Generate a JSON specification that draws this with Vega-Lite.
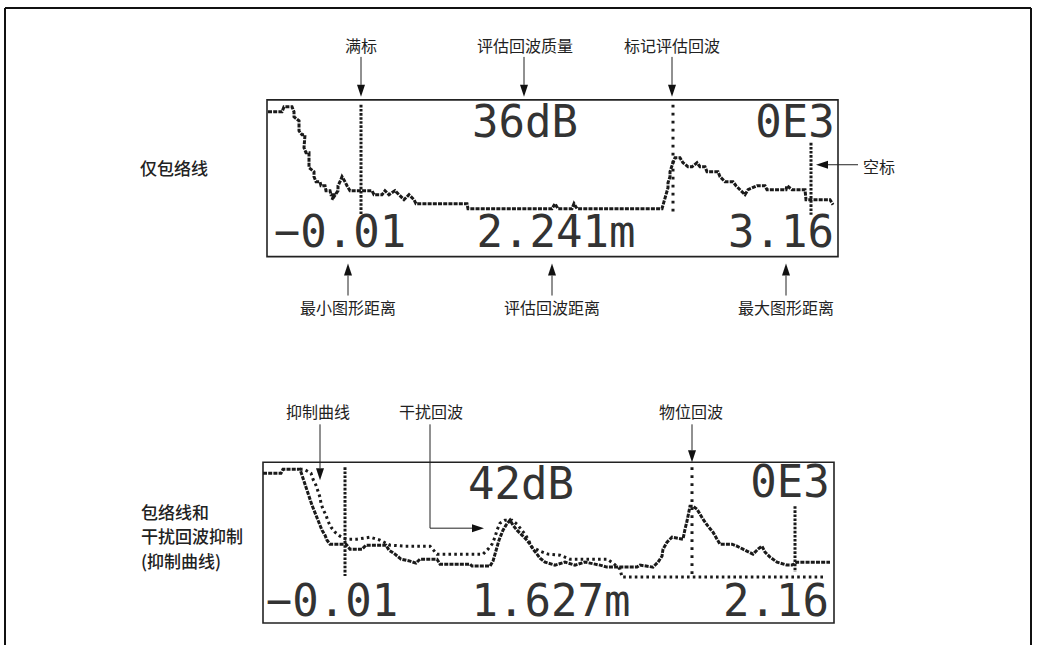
{
"$schema": "https://vega.github.io/schema/vega-lite/v6.json",
"width": 1037, "height": 646,
"autosize": {"type": "fit", "contains": "padding"},
"padding": 0,
"background": "white",
"config": {"view": {"stroke": null}},
"datasets": {
"frame": [{"x":5,"y":8,"x2":1031,"y2":8},{"x":5,"y":8,"x2":5,"y2":646},{"x":1031,"y":8,"x2":1031,"y2":646}],
"boxes": [{"x":267,"y":100,"x2":838,"y2":257},{"x":263,"y":463,"x2":834,"y2":624}],
"markers": [
{"x":361,"y":105,"x2":361,"y2":215,"k":"dense"},{"x":673,"y":105,"x2":673,"y2":213,"k":"dotted"},{"x":811,"y":143,"x2":811,"y2":215,"k":"dense"},
{"x":345,"y":468,"x2":345,"y2":577,"k":"dense"},{"x":692,"y":468,"x2":692,"y2":578,"k":"dotted"},{"x":795,"y":507,"x2":795,"y2":573,"k":"dense"}],
"leaders": [
{"x":361,"y":57,"x2":361,"y2":85},{"x":524,"y":57,"x2":524,"y2":85},{"x":672,"y":57,"x2":672,"y2":85},
{"x":348,"y":276,"x2":348,"y2":296},{"x":552,"y":276,"x2":552,"y2":296},{"x":786,"y":276,"x2":786,"y2":296},
{"x":828,"y":165,"x2":858,"y2":165},
{"x":320,"y":425,"x2":320,"y2":469},{"x":430,"y":425,"x2":430,"y2":529},{"x":430,"y":529,"x2":472,"y2":529},{"x":692,"y":425,"x2":692,"y2":451}],
"heads": [
{"x":361,"y":97,"d":"down"},{"x":524,"y":97,"d":"down"},{"x":672,"y":97,"d":"down"},{"x":320,"y":481,"d":"down"},{"x":692,"y":463,"d":"down"},
{"x":348,"y":264,"d":"up"},{"x":552,"y":264,"d":"up"},{"x":786,"y":264,"d":"up"},
{"x":816,"y":165,"d":"left"},{"x":484,"y":529,"d":"right"}],
"labels": [
{"t":"满标","x":361,"y":47,"k":"ann"},{"t":"评估回波质量","x":525,"y":47,"k":"ann"},{"t":"标记评估回波","x":672,"y":47,"k":"ann"},
{"t":"空标","x":879,"y":168,"k":"ann"},
{"t":"最小图形距离","x":348,"y":309,"k":"ann"},{"t":"评估回波距离","x":552,"y":309,"k":"ann"},{"t":"最大图形距离","x":786,"y":309,"k":"ann"},
{"t":"抑制曲线","x":318,"y":414,"k":"ann"},{"t":"干扰回波","x":431,"y":414,"k":"ann"},{"t":"物位回波","x":691,"y":414,"k":"ann"},
{"t":"仅包络线","x":140,"y":170,"k":"side"},
{"t":"包络线和","x":141,"y":515,"k":"side"},{"t":"干扰回波抑制","x":141,"y":539,"k":"side"},{"t":"(抑制曲线)","x":141,"y":564,"k":"side"},
{"t":"36dB","x":525,"y":137,"k":"lcd"},{"t":"0E3","x":795,"y":137,"k":"lcd"},
{"t":"−0.01","x":340,"y":247,"k":"lcd"},{"t":"2.241m","x":556,"y":247,"k":"lcd"},{"t":"3.16","x":781,"y":247,"k":"lcd"},
{"t":"42dB","x":521,"y":500,"k":"lcd"},{"t":"0E3","x":790,"y":498,"k":"lcd"},
{"t":"−0.01","x":332,"y":617,"k":"lcd"},{"t":"1.627m","x":551,"y":617,"k":"lcd"},{"t":"2.16","x":776,"y":617,"k":"lcd"}],
"curves": [
{"c":"e1","i":0,"x":268,"y":112},{"c":"e1","i":1,"x":282,"y":112},{"c":"e1","i":2,"x":284,"y":107},{"c":"e1","i":3,"x":292,"y":107},{"c":"e1","i":4,"x":294,"y":112},{"c":"e1","i":5,"x":294,"y":117},{"c":"e1","i":6,"x":299,"y":121},{"c":"e1","i":7,"x":299,"y":131},{"c":"e1","i":8,"x":302,"y":135},{"c":"e1","i":9,"x":305,"y":135},
{"c":"e1","i":10,"x":304,"y":148},{"c":"e1","i":11,"x":306,"y":153},{"c":"e1","i":12,"x":309,"y":153},{"c":"e1","i":13,"x":309,"y":168},{"c":"e1","i":14,"x":314,"y":172},{"c":"e1","i":15,"x":314,"y":177},{"c":"e1","i":16,"x":316,"y":182},{"c":"e1","i":17,"x":320,"y":182},{"c":"e1","i":18,"x":321,"y":186},{"c":"e1","i":19,"x":325,"y":186},
{"c":"e1","i":20,"x":326,"y":191},{"c":"e1","i":21,"x":330,"y":191},{"c":"e1","i":22,"x":331,"y":195},{"c":"e1","i":23,"x":334,"y":195},{"c":"e1","i":24,"x":332,"y":200},{"c":"e1","i":25,"x":338,"y":191},{"c":"e1","i":26,"x":338,"y":186},{"c":"e1","i":27,"x":340,"y":182},{"c":"e1","i":28,"x":342,"y":177},{"c":"e1","i":29,"x":345,"y":182},
{"c":"e1","i":30,"x":347,"y":186},{"c":"e1","i":31,"x":350,"y":191},{"c":"e1","i":32,"x":372,"y":191},{"c":"e1","i":33,"x":374,"y":195},{"c":"e1","i":34,"x":382,"y":195},{"c":"e1","i":35,"x":385,"y":191},{"c":"e1","i":36,"x":389,"y":195},{"c":"e1","i":37,"x":395,"y":191},{"c":"e1","i":38,"x":399,"y":195},{"c":"e1","i":39,"x":404,"y":200},
{"c":"e1","i":40,"x":409,"y":195},{"c":"e1","i":41,"x":414,"y":200},{"c":"e1","i":42,"x":416,"y":204},{"c":"e1","i":43,"x":467,"y":204},{"c":"e1","i":44,"x":468,"y":209},{"c":"e1","i":45,"x":552,"y":209},{"c":"e1","i":46,"x":555,"y":204},{"c":"e1","i":47,"x":558,"y":209},{"c":"e1","i":48,"x":572,"y":209},{"c":"e1","i":49,"x":574,"y":204},
{"c":"e1","i":50,"x":577,"y":209},{"c":"e1","i":51,"x":662,"y":209},{"c":"e1","i":52,"x":664,"y":202},{"c":"e1","i":53,"x":666,"y":195},{"c":"e1","i":54,"x":668,"y":188},{"c":"e1","i":55,"x":668,"y":183},{"c":"e1","i":56,"x":670,"y":177},{"c":"e1","i":57,"x":670,"y":172},{"c":"e1","i":58,"x":673,"y":163},{"c":"e1","i":59,"x":675,"y":158},
{"c":"e1","i":60,"x":680,"y":158},{"c":"e1","i":61,"x":683,"y":163},{"c":"e1","i":62,"x":688,"y":167},{"c":"e1","i":63,"x":692,"y":167},{"c":"e1","i":64,"x":697,"y":163},{"c":"e1","i":65,"x":700,"y":167},{"c":"e1","i":66,"x":705,"y":167},{"c":"e1","i":67,"x":707,"y":172},{"c":"e1","i":68,"x":718,"y":172},{"c":"e1","i":69,"x":720,"y":177},
{"c":"e1","i":70,"x":725,"y":182},{"c":"e1","i":71,"x":733,"y":182},{"c":"e1","i":72,"x":736,"y":186},{"c":"e1","i":73,"x":740,"y":190},{"c":"e1","i":74,"x":745,"y":195},{"c":"e1","i":75,"x":748,"y":190},{"c":"e1","i":76,"x":757,"y":186},{"c":"e1","i":77,"x":765,"y":186},{"c":"e1","i":78,"x":767,"y":190},{"c":"e1","i":79,"x":786,"y":190},
{"c":"e1","i":80,"x":787,"y":186},{"c":"e1","i":81,"x":792,"y":190},{"c":"e1","i":82,"x":805,"y":190},{"c":"e1","i":83,"x":806,"y":200},{"c":"e1","i":84,"x":830,"y":200},{"c":"e1","i":85,"x":833,"y":205},
{"c":"e2","i":0,"x":263,"y":474},{"c":"e2","i":1,"x":281,"y":474},{"c":"e2","i":2,"x":283,"y":470},{"c":"e2","i":3,"x":300,"y":470},{"c":"e2","i":4,"x":302,"y":476},{"c":"e2","i":5,"x":304,"y":482},{"c":"e2","i":6,"x":306,"y":488},{"c":"e2","i":7,"x":308,"y":494},{"c":"e2","i":8,"x":310,"y":500},{"c":"e2","i":9,"x":312,"y":506},
{"c":"e2","i":10,"x":314,"y":511},{"c":"e2","i":11,"x":316,"y":516},{"c":"e2","i":12,"x":318,"y":521},{"c":"e2","i":13,"x":320,"y":526},{"c":"e2","i":14,"x":322,"y":531},{"c":"e2","i":15,"x":325,"y":536},{"c":"e2","i":16,"x":327,"y":541},{"c":"e2","i":17,"x":330,"y":545},{"c":"e2","i":18,"x":346,"y":545},{"c":"e2","i":19,"x":350,"y":550},
{"c":"e2","i":20,"x":362,"y":550},{"c":"e2","i":21,"x":366,"y":546},{"c":"e2","i":22,"x":386,"y":546},{"c":"e2","i":23,"x":389,"y":551},{"c":"e2","i":24,"x":395,"y":555},{"c":"e2","i":25,"x":401,"y":560},{"c":"e2","i":26,"x":410,"y":562},{"c":"e2","i":27,"x":416,"y":564},{"c":"e2","i":28,"x":420,"y":560},{"c":"e2","i":29,"x":437,"y":560},
{"c":"e2","i":30,"x":440,"y":565},{"c":"e2","i":31,"x":470,"y":565},{"c":"e2","i":32,"x":472,"y":567},{"c":"e2","i":33,"x":490,"y":567},{"c":"e2","i":34,"x":493,"y":562},{"c":"e2","i":35,"x":495,"y":555},{"c":"e2","i":36,"x":497,"y":548},{"c":"e2","i":37,"x":499,"y":541},{"c":"e2","i":38,"x":501,"y":536},{"c":"e2","i":39,"x":503,"y":531},
{"c":"e2","i":40,"x":506,"y":526},{"c":"e2","i":41,"x":510,"y":521},{"c":"e2","i":42,"x":513,"y":526},{"c":"e2","i":43,"x":517,"y":531},{"c":"e2","i":44,"x":522,"y":536},{"c":"e2","i":45,"x":526,"y":540},{"c":"e2","i":46,"x":530,"y":545},{"c":"e2","i":47,"x":533,"y":550},{"c":"e2","i":48,"x":537,"y":555},{"c":"e2","i":49,"x":540,"y":559},
{"c":"e2","i":50,"x":545,"y":563},{"c":"e2","i":51,"x":555,"y":566},{"c":"e2","i":52,"x":565,"y":563},{"c":"e2","i":53,"x":575,"y":566},{"c":"e2","i":54,"x":585,"y":563},{"c":"e2","i":55,"x":600,"y":566},{"c":"e2","i":56,"x":607,"y":568},{"c":"e2","i":57,"x":637,"y":568},{"c":"e2","i":58,"x":640,"y":566},{"c":"e2","i":59,"x":653,"y":568},
{"c":"e2","i":60,"x":658,"y":563},{"c":"e2","i":61,"x":662,"y":557},{"c":"e2","i":62,"x":663,"y":550},{"c":"e2","i":63,"x":667,"y":543},{"c":"e2","i":64,"x":672,"y":538},{"c":"e2","i":65,"x":683,"y":540},{"c":"e2","i":66,"x":685,"y":530},{"c":"e2","i":67,"x":687,"y":522},{"c":"e2","i":68,"x":690,"y":507},{"c":"e2","i":69,"x":693,"y":507},
{"c":"e2","i":70,"x":697,"y":510},{"c":"e2","i":71,"x":700,"y":515},{"c":"e2","i":72,"x":703,"y":520},{"c":"e2","i":73,"x":708,"y":527},{"c":"e2","i":74,"x":713,"y":533},{"c":"e2","i":75,"x":717,"y":540},{"c":"e2","i":76,"x":720,"y":545},{"c":"e2","i":77,"x":732,"y":545},{"c":"e2","i":78,"x":737,"y":547},{"c":"e2","i":79,"x":743,"y":550},
{"c":"e2","i":80,"x":753,"y":555},{"c":"e2","i":81,"x":758,"y":550},{"c":"e2","i":82,"x":762,"y":547},{"c":"e2","i":83,"x":765,"y":553},{"c":"e2","i":84,"x":770,"y":558},{"c":"e2","i":85,"x":777,"y":563},{"c":"e2","i":86,"x":787,"y":566},{"c":"e2","i":87,"x":792,"y":566},{"c":"e2","i":88,"x":797,"y":563},{"c":"e2","i":89,"x":830,"y":563},
{"c":"s2","i":0,"x":300,"y":470},{"c":"s2","i":1,"x":304,"y":470},{"c":"s2","i":2,"x":311,"y":474},{"c":"s2","i":3,"x":313,"y":480},{"c":"s2","i":4,"x":316,"y":486},{"c":"s2","i":5,"x":318,"y":492},{"c":"s2","i":6,"x":320,"y":498},{"c":"s2","i":7,"x":321,"y":504},{"c":"s2","i":8,"x":323,"y":510},{"c":"s2","i":9,"x":326,"y":516},
{"c":"s2","i":10,"x":328,"y":522},{"c":"s2","i":11,"x":331,"y":528},{"c":"s2","i":12,"x":335,"y":533},{"c":"s2","i":13,"x":340,"y":537},{"c":"s2","i":14,"x":346,"y":540},{"c":"s2","i":15,"x":357,"y":540},{"c":"s2","i":16,"x":370,"y":538},{"c":"s2","i":17,"x":380,"y":541},{"c":"s2","i":18,"x":390,"y":546},{"c":"s2","i":19,"x":405,"y":547},
{"c":"s2","i":20,"x":430,"y":547},{"c":"s2","i":21,"x":437,"y":555},{"c":"s2","i":22,"x":483,"y":555},{"c":"s2","i":23,"x":488,"y":550},{"c":"s2","i":24,"x":492,"y":545},{"c":"s2","i":25,"x":495,"y":538},{"c":"s2","i":26,"x":497,"y":531},{"c":"s2","i":27,"x":500,"y":524},{"c":"s2","i":28,"x":505,"y":521},{"c":"s2","i":29,"x":512,"y":521},
{"c":"s2","i":30,"x":517,"y":525},{"c":"s2","i":31,"x":521,"y":530},{"c":"s2","i":32,"x":525,"y":535},{"c":"s2","i":33,"x":528,"y":540},{"c":"s2","i":34,"x":532,"y":548},{"c":"s2","i":35,"x":540,"y":552},{"c":"s2","i":36,"x":548,"y":555},{"c":"s2","i":37,"x":560,"y":556},{"c":"s2","i":38,"x":570,"y":560},{"c":"s2","i":39,"x":607,"y":560},
{"c":"s2","i":40,"x":613,"y":564},{"c":"s2","i":41,"x":620,"y":570},{"c":"s2","i":42,"x":622,"y":578},{"c":"s2","i":43,"x":825,"y":578}]
},
"encoding": {
"x": {"field": "x", "type": "quantitative", "scale": {"domain": [0, 1037], "nice": false, "zero": false}, "axis": null},
"y": {"field": "y", "type": "quantitative", "scale": {"domain": [0, 646], "nice": false, "zero": false, "reverse": true}, "axis": null}
},
"layer": [
{"data": {"name": "frame"}, "mark": {"type": "rule", "color": "#111", "strokeWidth": 2}, "encoding": {"x2": {"field": "x2"}, "y2": {"field": "y2"}}},
{"data": {"name": "boxes"}, "mark": {"type": "rect", "fill": "transparent", "stroke": "#222", "strokeWidth": 1.6}, "encoding": {"x2": {"field": "x2"}, "y2": {"field": "y2"}}},
{"data": {"name": "curves"}, "transform": [{"filter": "datum.c != 's2'"}], "mark": {"type": "line", "color": "#1a1a1a", "strokeWidth": 3, "strokeDash": [4, 1.2], "strokeCap": "butt"}, "encoding": {"detail": {"field": "c"}, "order": {"field": "i", "type": "quantitative"}}},
{"data": {"name": "curves"}, "transform": [{"filter": "datum.c == 's2'"}], "mark": {"type": "line", "color": "#1a1a1a", "strokeWidth": 3, "strokeDash": [2.6, 3.2], "strokeCap": "butt"}, "encoding": {"detail": {"field": "c"}, "order": {"field": "i", "type": "quantitative"}}},
{"data": {"name": "markers"}, "transform": [{"filter": "datum.k == 'dense'"}], "mark": {"type": "rule", "color": "#1a1a1a", "strokeWidth": 3, "strokeDash": [2.6, 1.5]}, "encoding": {"x2": {"field": "x2"}, "y2": {"field": "y2"}}},
{"data": {"name": "markers"}, "transform": [{"filter": "datum.k == 'dotted'"}], "mark": {"type": "rule", "color": "#1a1a1a", "strokeWidth": 3, "strokeDash": [2.6, 5.4]}, "encoding": {"x2": {"field": "x2"}, "y2": {"field": "y2"}}},
{"data": {"name": "leaders"}, "mark": {"type": "rule", "color": "#222", "strokeWidth": 1}, "encoding": {"x2": {"field": "x2"}, "y2": {"field": "y2"}}},
{"data": {"name": "heads"}, "transform": [{"filter": "datum.d == 'down'"}], "mark": {"type": "point", "shape": "M-0.5,-1.5L0.5,-1.5L0,0Z", "filled": true, "color": "#111", "size": 256, "opacity": 1}},
{"data": {"name": "heads"}, "transform": [{"filter": "datum.d == 'up'"}], "mark": {"type": "point", "shape": "M-0.5,1.5L0.5,1.5L0,0Z", "filled": true, "color": "#111", "size": 256, "opacity": 1}},
{"data": {"name": "heads"}, "transform": [{"filter": "datum.d == 'left'"}], "mark": {"type": "point", "shape": "M1.5,-0.5L1.5,0.5L0,0Z", "filled": true, "color": "#111", "size": 256, "opacity": 1}},
{"data": {"name": "heads"}, "transform": [{"filter": "datum.d == 'right'"}], "mark": {"type": "point", "shape": "M-1.5,-0.5L-1.5,0.5L0,0Z", "filled": true, "color": "#111", "size": 256, "opacity": 1}},
{"data": {"name": "labels"}, "transform": [{"filter": "datum.k == 'ann'"}], "mark": {"type": "text", "font": "Noto Sans CJK SC", "fontSize": 16, "color": "#222", "align": "center", "baseline": "middle"}, "encoding": {"text": {"field": "t"}}},
{"data": {"name": "labels"}, "transform": [{"filter": "datum.k == 'side'"}], "mark": {"type": "text", "font": "Noto Sans CJK SC", "fontSize": 17, "fontWeight": 500, "color": "#222", "align": "left", "baseline": "middle"}, "encoding": {"text": {"field": "t"}}},
{"data": {"name": "labels"}, "transform": [{"filter": "datum.k == 'lcd'"}], "mark": {"type": "text", "font": "DejaVu Sans Mono", "fontSize": 44, "color": "#333", "align": "center", "baseline": "alphabetic"}, "encoding": {"text": {"field": "t"}}}
]
}
